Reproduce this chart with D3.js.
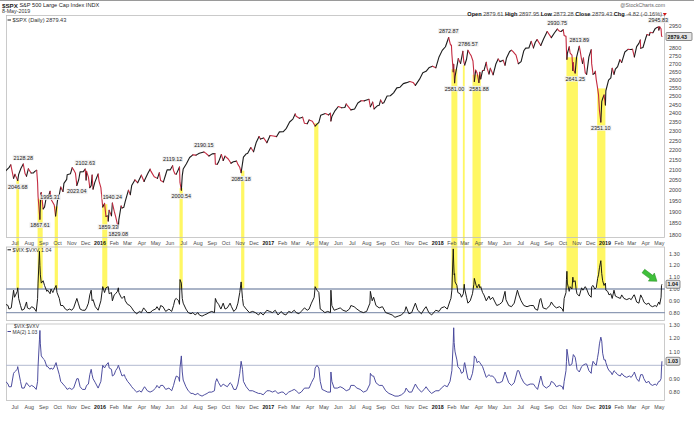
<!DOCTYPE html>
<html>
<head>
<meta charset="utf-8">
<script src="https://cdn.jsdelivr.net/npm/d3@7/dist/d3.min.js"></script>
<style>
html,body{margin:0;padding:0;background:#fff;}
svg{display:block;}
text{font-family:"Liberation Sans",Arial,Helvetica,sans-serif;}
</style>
</head>
<body>
<svg id="chart" width="694" height="421"></svg>
<script>
// ---------------- DATA ----------------
const spxDates = [
"2015-06-12","2015-06-19","2015-06-23","2015-06-29",
"2015-07-02","2015-07-08","2015-07-10","2015-07-15","2015-07-20","2015-07-24","2015-07-27","2015-07-31",
"2015-08-06","2015-08-11","2015-08-14","2015-08-18","2015-08-20","2015-08-21","2015-08-24","2015-08-25","2015-08-26","2015-08-27","2015-08-28",
"2015-09-01","2015-09-04","2015-09-08","2015-09-11","2015-09-16","2015-09-18","2015-09-22","2015-09-25","2015-09-28",
"2015-10-02","2015-10-06","2015-10-09","2015-10-14","2015-10-16","2015-10-22","2015-10-23","2015-10-30",
"2015-11-03","2015-11-06","2015-11-10","2015-11-13","2015-11-17","2015-11-20","2015-11-27",
"2015-12-01","2015-12-03","2015-12-04","2015-12-08","2015-12-11","2015-12-14","2015-12-16","2015-12-18","2015-12-22","2015-12-29","2015-12-31",
"2016-01-04","2016-01-07","2016-01-08","2016-01-12","2016-01-15","2016-01-19","2016-01-20","2016-01-22","2016-01-27","2016-01-29",
"2016-02-02","2016-02-05","2016-02-08","2016-02-11","2016-02-12","2016-02-17","2016-02-19","2016-02-23","2016-02-26",
"2016-03-01","2016-03-04","2016-03-08","2016-03-11","2016-03-18","2016-03-24",
"2016-04-01","2016-04-07","2016-04-08","2016-04-15","2016-04-20","2016-04-22","2016-04-29",
"2016-05-06","2016-05-10","2016-05-13","2016-05-19","2016-05-24","2016-05-27",
"2016-06-03","2016-06-08","2016-06-10","2016-06-13","2016-06-16","2016-06-23","2016-06-24","2016-06-27","2016-06-29",
"2016-07-01","2016-07-08","2016-07-15","2016-07-22","2016-07-29",
"2016-08-05","2016-08-15","2016-08-19","2016-08-26",
"2016-09-02","2016-09-08","2016-09-09","2016-09-13","2016-09-16","2016-09-22","2016-09-26","2016-09-30",
"2016-10-07","2016-10-13","2016-10-18","2016-10-25","2016-10-28",
"2016-11-01","2016-11-04","2016-11-07","2016-11-09","2016-11-15","2016-11-18","2016-11-25",
"2016-12-01","2016-12-07","2016-12-13","2016-12-16","2016-12-23","2016-12-30",
"2017-01-06","2017-01-13","2017-01-20","2017-01-26",
"2017-02-03","2017-02-10","2017-02-17","2017-02-24",
"2017-03-01","2017-03-03","2017-03-10","2017-03-17","2017-03-21","2017-03-27","2017-03-31",
"2017-04-07","2017-04-13","2017-04-18","2017-04-21","2017-04-25",
"2017-05-05","2017-05-12","2017-05-16","2017-05-17","2017-05-19","2017-05-26",
"2017-06-02","2017-06-09","2017-06-16","2017-06-19","2017-06-29",
"2017-07-07","2017-07-14","2017-07-21","2017-07-28",
"2017-08-07","2017-08-10","2017-08-15","2017-08-18","2017-08-25","2017-08-29",
"2017-09-01","2017-09-05","2017-09-08","2017-09-15","2017-09-22","2017-09-29",
"2017-10-06","2017-10-13","2017-10-20","2017-10-27",
"2017-11-03","2017-11-10","2017-11-15","2017-11-24",
"2017-12-01","2017-12-08","2017-12-15","2017-12-22","2017-12-29",
"2018-01-05","2018-01-12","2018-01-19","2018-01-26","2018-01-30",
"2018-02-01","2018-02-02","2018-02-05","2018-02-06","2018-02-08","2018-02-09","2018-02-14","2018-02-16","2018-02-21","2018-02-26","2018-02-28",
"2018-03-02","2018-03-06","2018-03-09","2018-03-13","2018-03-16","2018-03-20","2018-03-22","2018-03-23","2018-03-26","2018-03-29",
"2018-04-02","2018-04-04","2018-04-06","2018-04-10","2018-04-13","2018-04-18","2018-04-20","2018-04-24","2018-04-27",
"2018-05-03","2018-05-09","2018-05-14","2018-05-18","2018-05-25","2018-05-29",
"2018-06-01","2018-06-08","2018-06-12","2018-06-15","2018-06-22","2018-06-27",
"2018-07-03","2018-07-09","2018-07-13","2018-07-20","2018-07-25","2018-07-30",
"2018-08-03","2018-08-07","2018-08-15","2018-08-21","2018-08-29",
"2018-09-07","2018-09-14","2018-09-20","2018-09-25","2018-09-28",
"2018-10-03","2018-10-05","2018-10-09","2018-10-10","2018-10-11","2018-10-12","2018-10-16","2018-10-18","2018-10-22","2018-10-24","2018-10-25","2018-10-26","2018-10-29",
"2018-11-01","2018-11-07","2018-11-09","2018-11-12","2018-11-14","2018-11-16","2018-11-20","2018-11-23","2018-11-28",
"2018-12-03","2018-12-04","2018-12-07","2018-12-10","2018-12-12","2018-12-14","2018-12-17","2018-12-19","2018-12-21","2018-12-24","2018-12-26","2018-12-28","2018-12-31",
"2019-01-03","2019-01-04","2019-01-10","2019-01-15","2019-01-18","2019-01-22","2019-01-25","2019-01-30",
"2019-02-04","2019-02-08","2019-02-15","2019-02-22","2019-02-27",
"2019-03-04","2019-03-08","2019-03-13","2019-03-18","2019-03-21","2019-03-22","2019-03-27",
"2019-04-02","2019-04-05","2019-04-10","2019-04-12","2019-04-18","2019-04-23","2019-04-26","2019-04-30",
"2019-05-01","2019-05-03","2019-05-06","2019-05-07","2019-05-08"
];
const spxCloses = [
2094.11,2109.99,2124.20,2057.64,
2076.78,2046.68,2076.62,2107.40,2128.28,2079.65,2067.64,2103.84,
2083.56,2084.07,2091.54,2096.92,2035.73,1970.89,1893.21,1867.61,1940.51,1987.66,1988.87,
1913.85,1921.22,1969.41,1961.05,1995.31,1958.03,1942.74,1931.34,1881.77,
1951.36,1979.92,2014.89,1994.24,2033.11,2052.51,2075.15,2079.36,
2109.79,2099.20,2081.72,2023.04,2050.44,2089.17,2090.11,
2102.63,2049.62,2091.69,2063.59,2012.37,2021.94,2073.07,2005.55,2038.97,2078.36,2043.94,
2012.66,1943.09,1922.03,1938.68,1880.33,1881.33,1859.33,1906.90,1882.95,1940.24,
1903.03,1880.05,1853.44,1829.08,1864.78,1926.82,1917.78,1921.27,1948.05,
1978.35,1999.99,1979.26,2022.19,2049.58,2035.94,
2072.78,2041.91,2047.60,2080.73,2102.40,2091.58,2065.30,
2057.14,2084.39,2046.61,2040.04,2076.06,2099.06,
2099.13,2119.12,2096.07,2079.06,2077.99,2113.32,2037.41,2000.54,2070.77,
2102.95,2129.90,2161.74,2175.03,2173.60,
2182.87,2190.15,2183.87,2169.04,
2179.98,2181.30,2127.81,2127.02,2139.16,2177.18,2146.10,2168.27,
2153.74,2132.55,2139.60,2143.16,2126.41,
2111.72,2085.18,2131.52,2163.26,2180.39,2181.90,2213.35,
2191.08,2241.35,2271.72,2258.07,2263.79,2238.83,
2276.98,2274.64,2271.31,2296.68,
2297.42,2316.10,2351.16,2367.34,
2395.96,2383.12,2372.60,2378.25,2344.02,2341.59,2362.72,
2355.54,2328.95,2342.19,2348.69,2388.61,
2399.29,2390.90,2400.67,2357.03,2381.73,2415.82,
2439.07,2431.77,2433.15,2453.46,2419.70,
2425.18,2459.27,2472.54,2472.10,
2480.91,2438.21,2464.61,2425.55,2443.05,2446.30,
2476.55,2457.85,2461.43,2500.23,2502.22,2519.36,
2549.33,2553.17,2575.21,2581.07,
2587.84,2582.30,2564.62,2602.42,
2642.22,2651.50,2675.81,2683.34,2673.61,
2743.15,2786.24,2810.30,2872.87,2822.43,
2821.98,2762.13,2648.94,2695.14,2581.00,2619.55,2698.63,2732.22,2701.33,2779.60,2713.83,
2691.25,2728.12,2786.57,2765.31,2752.01,2716.94,2643.69,2588.26,2658.55,2640.87,
2581.88,2644.69,2604.47,2656.87,2656.30,2708.64,2670.14,2634.56,2669.91,
2629.73,2697.79,2730.13,2712.97,2721.33,2689.86,
2734.62,2779.03,2786.85,2779.66,2754.88,2699.63,
2713.22,2784.17,2801.31,2801.83,2846.07,2802.60,
2840.35,2858.45,2818.37,2862.96,2914.04,
2871.68,2904.98,2930.75,2915.56,2913.98,
2925.51,2885.57,2880.34,2785.68,2728.37,2767.13,2809.92,2768.78,2755.88,2656.10,2705.57,2658.69,2641.25,
2740.37,2813.89,2781.01,2726.22,2701.58,2736.27,2641.89,2632.56,2743.79,
2790.37,2700.06,2633.08,2637.72,2651.07,2599.95,2545.94,2506.96,2416.62,2351.10,2467.70,2485.74,2506.85,
2447.89,2531.94,2596.64,2610.30,2670.71,2632.90,2664.76,2681.05,
2724.87,2707.88,2775.60,2792.67,2792.38,
2792.81,2743.07,2810.92,2832.94,2854.88,2800.71,2805.37,
2867.24,2892.74,2888.21,2907.41,2905.03,2933.68,2939.88,2945.83,
2923.73,2945.64,2932.47,2884.05,2879.43
];

// $VIX:$VXV ratio and its MA(2), sampled on the same dates
const ratioDates = [
"2015-06-12","2015-06-17","2015-06-19","2015-06-24","2015-06-29",
"2015-07-01","2015-07-07","2015-07-08","2015-07-10","2015-07-14","2015-07-17","2015-07-22","2015-07-27","2015-07-29",
"2015-08-03","2015-08-07","2015-08-12","2015-08-17","2015-08-20","2015-08-21","2015-08-24","2015-08-25","2015-08-26","2015-08-28",
"2015-09-01","2015-09-04","2015-09-09","2015-09-11","2015-09-16","2015-09-18","2015-09-22","2015-09-24","2015-09-29",
"2015-10-01","2015-10-06","2015-10-09","2015-10-14","2015-10-19","2015-10-23","2015-10-28",
"2015-11-02","2015-11-06","2015-11-13","2015-11-16","2015-11-20","2015-11-25",
"2015-12-01","2015-12-04","2015-12-08","2015-12-11","2015-12-14","2015-12-16","2015-12-18","2015-12-23","2015-12-29",
"2016-01-04","2016-01-07","2016-01-08","2016-01-12","2016-01-15","2016-01-20","2016-01-22","2016-01-27","2016-01-29",
"2016-02-02","2016-02-05","2016-02-09","2016-02-11","2016-02-12","2016-02-17","2016-02-19","2016-02-24","2016-02-26",
"2016-03-02","2016-03-07","2016-03-11","2016-03-16","2016-03-22","2016-03-28",
"2016-04-01","2016-04-06","2016-04-08","2016-04-14","2016-04-20","2016-04-26",
"2016-05-02","2016-05-05","2016-05-10","2016-05-13","2016-05-18","2016-05-24","2016-05-31",
"2016-06-06","2016-06-10","2016-06-13","2016-06-16","2016-06-21","2016-06-23","2016-06-24","2016-06-27","2016-06-29",
"2016-07-01","2016-07-07","2016-07-12","2016-07-18","2016-07-22","2016-07-27",
"2016-08-02","2016-08-05","2016-08-11","2016-08-16","2016-08-22","2016-08-26",
"2016-09-01","2016-09-07","2016-09-09","2016-09-12","2016-09-16","2016-09-21","2016-09-26","2016-09-30",
"2016-10-05","2016-10-11","2016-10-14","2016-10-19","2016-10-24","2016-10-28",
"2016-11-01","2016-11-04","2016-11-07","2016-11-09","2016-11-15","2016-11-22","2016-11-29",
"2016-12-05","2016-12-12","2016-12-16","2016-12-22","2016-12-30",
"2017-01-05","2017-01-11","2017-01-17","2017-01-23","2017-01-30",
"2017-02-03","2017-02-09","2017-02-15","2017-02-21","2017-02-27",
"2017-03-03","2017-03-09","2017-03-14","2017-03-21","2017-03-27","2017-03-31",
"2017-04-05","2017-04-11","2017-04-13","2017-04-17","2017-04-21","2017-04-24","2017-04-28",
"2017-05-04","2017-05-10","2017-05-16","2017-05-17","2017-05-19","2017-05-24","2017-05-31",
"2017-06-06","2017-06-12","2017-06-19","2017-06-26","2017-06-29",
"2017-07-06","2017-07-12","2017-07-19","2017-07-26",
"2017-08-02","2017-08-09","2017-08-10","2017-08-14","2017-08-17","2017-08-22","2017-08-29",
"2017-09-05","2017-09-12","2017-09-19","2017-09-26",
"2017-10-02","2017-10-09","2017-10-16","2017-10-23","2017-10-26",
"2017-11-01","2017-11-07","2017-11-15","2017-11-20","2017-11-28",
"2017-12-04","2017-12-08","2017-12-14","2017-12-20","2017-12-29",
"2018-01-05","2018-01-10","2018-01-17","2018-01-23","2018-01-29","2018-01-31",
"2018-02-02","2018-02-05","2018-02-06","2018-02-07","2018-02-08","2018-02-09","2018-02-13","2018-02-15","2018-02-20","2018-02-23","2018-02-27",
"2018-03-01","2018-03-02","2018-03-06","2018-03-09","2018-03-14","2018-03-19","2018-03-22","2018-03-23","2018-03-27","2018-03-29",
"2018-04-02","2018-04-04","2018-04-06","2018-04-10","2018-04-13","2018-04-18","2018-04-24","2018-04-27",
"2018-05-02","2018-05-07","2018-05-11","2018-05-17","2018-05-23","2018-05-29","2018-05-31",
"2018-06-06","2018-06-12","2018-06-18","2018-06-25","2018-06-28",
"2018-07-03","2018-07-09","2018-07-16","2018-07-23","2018-07-30",
"2018-08-03","2018-08-08","2018-08-13","2018-08-15","2018-08-20","2018-08-27",
"2018-09-04","2018-09-07","2018-09-12","2018-09-18","2018-09-25",
"2018-10-01","2018-10-03","2018-10-05","2018-10-09","2018-10-10","2018-10-11","2018-10-12","2018-10-16","2018-10-18","2018-10-22","2018-10-24","2018-10-25","2018-10-29","2018-10-31",
"2018-11-02","2018-11-07","2018-11-12","2018-11-15","2018-11-20","2018-11-23","2018-11-28",
"2018-12-03","2018-12-04","2018-12-07","2018-12-11","2018-12-14","2018-12-17","2018-12-19","2018-12-21","2018-12-24","2018-12-26","2018-12-28","2018-12-31",
"2019-01-03","2019-01-04","2019-01-08","2019-01-11","2019-01-15","2019-01-18","2019-01-22","2019-01-25","2019-01-30",
"2019-02-05","2019-02-08","2019-02-13","2019-02-19","2019-02-25",
"2019-03-01","2019-03-07","2019-03-08","2019-03-13","2019-03-18","2019-03-22","2019-03-26","2019-03-29",
"2019-04-03","2019-04-09","2019-04-12","2019-04-17","2019-04-23","2019-04-26",
"2019-05-01","2019-05-03","2019-05-06","2019-05-07","2019-05-08"
];
const ratioValues = [
0.87,0.86,0.83,0.84,0.99,
0.93,0.98,1.01,0.92,0.86,0.82,0.83,0.89,0.84,
0.83,0.85,0.84,0.81,0.92,1.05,1.32,1.20,1.12,1.05,
1.07,1.03,0.98,0.99,0.96,1.00,0.97,0.99,1.03,
0.97,0.92,0.86,0.86,0.83,0.82,0.83,
0.82,0.84,0.92,0.88,0.83,0.82,
0.82,0.84,0.88,0.95,0.99,0.90,0.91,0.85,0.82,
0.90,0.99,1.02,0.97,1.01,1.02,0.96,0.97,0.90,
0.95,0.96,0.98,1.01,0.97,0.93,0.92,0.94,0.90,
0.87,0.86,0.84,0.81,0.79,0.81,
0.80,0.84,0.83,0.80,0.80,0.82,
0.83,0.85,0.82,0.86,0.85,0.81,0.83,
0.81,0.86,0.91,0.92,0.90,0.87,1.08,1.05,0.92,
0.88,0.83,0.80,0.79,0.80,0.78,
0.80,0.78,0.77,0.78,0.79,0.80,
0.81,0.80,0.92,0.89,0.87,0.83,0.88,0.83,
0.84,0.88,0.85,0.81,0.83,0.88,
0.97,1.06,0.92,0.86,0.83,0.80,0.81,
0.80,0.78,0.80,0.78,0.82,
0.81,0.80,0.82,0.78,0.81,
0.79,0.78,0.81,0.80,0.82,
0.80,0.79,0.81,0.84,0.82,0.83,
0.88,0.93,1.02,0.99,0.97,0.83,0.82,
0.80,0.81,0.80,0.99,0.86,0.82,0.83,
0.84,0.82,0.81,0.83,0.86,
0.85,0.83,0.81,0.80,
0.81,0.88,0.98,0.90,0.93,0.86,0.84,
0.85,0.80,0.79,0.78,
0.76,0.77,0.78,0.81,0.85,
0.79,0.80,0.88,0.82,0.79,
0.83,0.85,0.80,0.78,0.82,
0.81,0.84,0.85,0.83,0.90,0.92,
0.99,1.34,1.22,1.12,1.13,1.06,1.03,0.97,0.96,0.93,0.96,
1.04,1.00,0.93,0.88,0.90,0.96,1.04,1.09,1.03,1.01,
1.04,1.01,1.02,0.97,0.95,0.90,0.94,0.91,
0.93,0.89,0.86,0.87,0.89,0.98,0.91,
0.86,0.85,0.88,0.99,0.95,
0.90,0.86,0.85,0.86,0.86,
0.83,0.82,0.91,0.92,0.84,0.83,
0.86,0.89,0.86,0.84,0.85,
0.83,0.81,0.92,0.97,1.08,1.15,1.05,0.98,1.02,1.00,1.10,1.06,1.07,1.00,
0.96,0.94,1.01,0.99,1.02,1.00,0.95,
0.93,1.02,1.03,1.00,1.01,1.09,1.12,1.18,1.24,1.13,1.07,1.03,
1.05,0.99,0.98,0.95,0.96,0.92,0.99,0.94,0.93,
0.92,0.95,0.92,0.91,0.92,
0.91,0.95,0.95,0.89,0.88,0.95,0.92,0.89,
0.87,0.88,0.86,0.85,0.86,0.85,
0.89,0.87,0.93,1.03,1.04
];
const maValues = [
0.88,0.86,0.84,0.84,0.94,
0.95,0.97,0.99,0.95,0.88,0.83,0.83,0.87,0.86,
0.84,0.85,0.84,0.82,0.88,0.99,1.19,1.26,1.16,1.07,
1.05,1.04,0.99,0.99,0.97,0.98,0.97,0.98,1.02,
0.99,0.93,0.88,0.86,0.84,0.82,0.83,
0.82,0.83,0.90,0.90,0.84,0.82,
0.82,0.85,0.86,0.93,0.97,0.93,0.90,0.87,0.83,
0.88,0.97,1.00,0.98,1.00,1.02,0.98,0.97,0.92,
0.93,0.96,0.98,1.00,0.99,0.94,0.92,0.93,0.91,
0.88,0.86,0.84,0.82,0.80,0.81,
0.80,0.83,0.84,0.81,0.80,0.81,
0.83,0.85,0.83,0.85,0.85,0.82,0.83,
0.81,0.85,0.89,0.92,0.91,0.88,0.98,1.07,0.95,
0.89,0.84,0.81,0.79,0.79,0.78,
0.79,0.78,0.77,0.78,0.79,0.80,
0.80,0.81,0.87,0.90,0.87,0.84,0.86,0.85,
0.84,0.87,0.86,0.82,0.82,0.86,
0.94,1.03,0.97,0.88,0.84,0.81,0.81,
0.80,0.79,0.79,0.78,0.81,
0.81,0.80,0.81,0.79,0.80,
0.80,0.78,0.80,0.81,0.82,
0.81,0.79,0.80,0.83,0.83,0.83,
0.87,0.91,0.98,1.00,0.98,0.88,0.82,
0.81,0.80,0.80,0.95,0.88,0.83,0.83,
0.84,0.83,0.81,0.82,0.85,
0.85,0.83,0.82,0.80,
0.81,0.86,0.94,0.92,0.92,0.87,0.85,
0.85,0.81,0.79,0.78,
0.77,0.77,0.78,0.80,0.83,
0.80,0.80,0.86,0.83,0.80,
0.82,0.84,0.81,0.79,0.81,
0.81,0.83,0.85,0.84,0.88,0.92,
0.96,1.17,1.28,1.17,1.13,1.10,1.04,0.99,0.97,0.94,0.95,
1.01,1.02,0.95,0.90,0.89,0.94,1.01,1.07,1.05,1.02,
1.03,1.02,1.01,0.99,0.96,0.91,0.93,0.92,
0.92,0.90,0.87,0.87,0.88,0.95,0.93,
0.87,0.85,0.87,0.96,0.96,
0.91,0.87,0.85,0.86,0.86,
0.84,0.82,0.89,0.92,0.85,0.83,
0.85,0.88,0.87,0.84,0.85,
0.84,0.82,0.88,0.96,1.03,1.12,1.10,1.00,1.00,1.01,1.06,1.08,1.06,1.02,
0.97,0.95,0.99,1.00,1.01,1.01,0.96,
0.94,0.98,1.03,1.01,1.00,1.06,1.10,1.16,1.21,1.18,1.09,1.04,
1.04,1.02,0.98,0.96,0.95,0.93,0.96,0.95,0.93,
0.92,0.94,0.92,0.91,0.92,
0.91,0.94,0.95,0.90,0.88,0.93,0.93,0.90,
0.87,0.88,0.86,0.85,0.86,0.85,
0.88,0.88,0.90,0.98,1.03
];

// yellow highlight periods (VIX:VXV above 1) and the price level where each band starts
const bandStarts = ["2015-07-05","2015-08-20","2015-09-26","2016-01-07","2016-06-23","2016-11-04","2017-04-11","2018-02-01","2018-02-26","2018-03-19","2018-10-10","2018-12-16"];
const bandEnds   = ["2015-07-11","2015-08-31","2015-10-03","2016-01-18","2016-06-30","2016-11-11","2017-04-20","2018-02-14","2018-03-02","2018-04-06","2018-11-04","2019-01-03"];
const bandTops   = [2050, 1960, 1925, 1935, 2010, 2095, 2344, 2665, 2690, 2630, 2741, 2546];

// annotated closes
const annDates  = ["2015-07-20","2015-07-08","2015-08-25","2015-09-16","2015-11-13","2015-12-01","2016-01-29","2016-01-20","2016-02-11","2016-06-08","2016-06-27","2016-08-15","2016-11-04","2018-01-26","2018-02-08","2018-03-09","2018-04-02","2018-09-20","2018-11-07","2018-10-29","2018-12-24","2019-04-30"];
const annValues = [2128.28,2046.68,1867.61,1995.31,2023.04,2102.63,1940.24,1859.33,1829.08,2119.12,2000.54,2190.15,2085.18,2872.87,2581.00,2786.57,2581.88,2930.75,2813.89,2641.25,2351.10,2945.83];
const annSides  = ["up","down","down","down","down","up","up","down","down","up","down","up","down","up","down","up","down","up","up","down","down","up"];

// axis tick labels
const priceTicks = [1800,1850,1900,1950,2000,2050,2100,2150,2200,2250,2300,2350,2400,2450,2500,2550,2600,2650,2700,2750,2800,2850,2900,2950];
const ratioTicks = [0.80,0.90,1.00,1.10,1.20,1.30];
const refLevels2 = [1.00, 0.80];
const refLevels3 = [1.00];
const monthLabels = [
"Jul","Aug","Sep","Oct","Nov","Dec",
"2016","Feb","Mar","Apr","May","Jun","Jul","Aug","Sep","Oct","Nov","Dec",
"2017","Feb","Mar","Apr","May","Jun","Jul","Aug","Sep","Oct","Nov","Dec",
"2018","Feb","Mar","Apr","May","Jun","Jul","Aug","Sep","Oct","Nov","Dec",
"2019","Feb","Mar","Apr","May"
];
const firstMonth = "2015-07-01";

// ---------------- DRAW ----------------
const parse = d3.timeParse("%Y-%m-%d");
const svg = d3.select("#chart");
const L = 6, R = 665;
const P1 = {t: 15, b: 238}, P2 = {t: 246.5, b: 321}, P3 = {t: 323.5, b: 401};

const x = d3.scaleTime()
  .domain([new Date(2015,6,1), new Date(2016,0,1), new Date(2017,0,1), new Date(2018,0,1), new Date(2019,0,1), new Date(2019,4,1)])
  .range([14.5, 99.5, 267.8, 437.2, 604.5, 658.8]);
const y1 = d3.scaleLog().domain([1786, 3030]).range([P1.b, P1.t]);
const y2 = d3.scaleLinear().domain([0.7288, 1.3602]).range([P2.b, P2.t]);
const y3 = d3.scaleLinear().domain([0.7336, 1.3119]).range([P3.b, P3.t]);

const defs = svg.append("defs");
[["c1",P1],["c2",P2],["c3",P3]].forEach(([id,p]) => {
  defs.append("clipPath").attr("id", id).append("rect")
    .attr("x", L).attr("y", p.t).attr("width", R - L).attr("height", p.b - p.t);
});

// top page rule
svg.append("line").attr("x1",0).attr("x2",694).attr("y1",0.5).attr("y2",0.5).attr("stroke","#9a9a9a").attr("stroke-width",1);

// yellow bands
const bandG = svg.append("g");
bandStarts.forEach((s, i) => {
  const x0 = x(parse(s)), x1 = x(parse(bandEnds[i]));
  const yt = y1(bandTops[i]), yb = y2(1.0);
  bandG.append("rect").attr("x", x0).attr("y", yt)
    .attr("width", Math.max(1.5, x1 - x0)).attr("height", yb - yt)
    .attr("fill", "#fff763");
});

// panel frames
[P1,P2,P3].forEach(p => {
  svg.append("rect").attr("x", L + 0.5).attr("y", p.t + 0.5)
    .attr("width", R - L - 1).attr("height", p.b - p.t - 1)
    .attr("fill", "none").attr("stroke", "#bdbdbd").attr("stroke-width", 0.8);
});

// reference lines
refLevels2.forEach(v => svg.append("line").attr("x1", L).attr("x2", R)
  .attr("y1", y2(v)).attr("y2", y2(v)).attr("stroke", "#8e9bb5").attr("stroke-width", 1.3));
refLevels3.forEach(v => svg.append("line").attr("x1", L).attr("x2", R)
  .attr("y1", y3(v)).attr("y2", y3(v)).attr("stroke", "#b2bad0").attr("stroke-width", 1));

// SPX line, red on down moves, black on up moves
const spx = spxDates.map((d, i) => ({d: parse(d), v: spxCloses[i]})).filter(p => p.v != null);
const line1 = d3.line().x(p => x(p.d)).y(p => y1(p.v));
const runs = [];
for (let i = 1; i < spx.length; i++) {
  const up = spx[i].v >= spx[i-1].v;
  const last = runs[runs.length - 1];
  if (!last || last.up !== up) runs.push({up, pts: [spx[i-1], spx[i]]});
  else last.pts.push(spx[i]);
}
const g1 = svg.append("g").attr("clip-path", "url(#c1)");
runs.forEach(r => g1.append("path").attr("d", line1(r.pts)).attr("fill", "none")
  .attr("stroke", r.up ? "#1c1c1c" : "#c42a40").attr("stroke-width", 1.1)
  .attr("stroke-linejoin", "round").attr("stroke-linecap", "round"));

// ratio lines
const n = Math.min(ratioDates.length, ratioValues.length, maValues.length);
const rat = d3.range(n).map(i => ({d: parse(ratioDates[i]), v: ratioValues[i], m: maValues[i]}));
svg.append("g").attr("clip-path", "url(#c2)").append("path")
  .attr("d", d3.line().x(p => x(p.d)).y(p => y2(p.v))(rat))
  .attr("fill", "none").attr("stroke", "#111").attr("stroke-width", 0.95).attr("stroke-linejoin", "round");
svg.append("g").attr("clip-path", "url(#c3)").append("path")
  .attr("d", d3.line().x(p => x(p.d)).y(p => y3(p.m))(rat))
  .attr("fill", "none").attr("stroke", "#45459a").attr("stroke-width", 0.95).attr("stroke-linejoin", "round");

function txt(g, px, py, s, o = {}) {
  return g.append("text").attr("x", px).attr("y", py)
    .attr("dominant-baseline", "central")
    .attr("text-anchor", o.anchor || "start")
    .attr("font-size", o.size || 5.5)
    .attr("font-weight", o.bold ? "bold" : null)
    .attr("fill", o.fill || "#333")
    .text(s);
}

// annotation labels
const annG = svg.append("g");
annDates.forEach((d, i) => {
  const v = annValues[i];
  const cx = x(parse(d));
  const cy = y1(v) + (annSides[i] === "up" ? -6.5 : 6);
  const t = annG.append("text").attr("x", cx).attr("y", cy)
    .attr("text-anchor", "middle").attr("dominant-baseline", "central")
    .attr("font-size", 5.4).attr("font-family", '"Liberation Serif","Times New Roman",serif')
    .attr("fill", "#222").text(v.toFixed(2));
  const bb = t.node().getBBox();
  annG.insert("rect", () => t.node()).attr("x", bb.x - 0.8).attr("y", bb.y + 0.3)
    .attr("width", bb.width + 1.6).attr("height", bb.height - 0.6)
    .attr("fill", "#eeeeee").attr("opacity", 0.92);
});

// right axes (a tick label sitting under a value tag is hidden by it, as in the original)
const axG = svg.append("g");
const lastClose = spxCloses[spxCloses.length - 1];
const lastRatio = ratioValues[n - 1], lastMA = maValues[n - 1];
priceTicks.forEach(v => {
  if (Math.abs(y1(v) - y1(lastClose)) < 5) return;
  txt(axG, 669, y1(v), String(v), {fill: "#444"});
});
ratioTicks.forEach(v => {
  if (Math.abs(y2(v) - y2(lastRatio)) >= 4.5) txt(axG, 669, y2(v), v.toFixed(2), {fill: "#444"});
  if (Math.abs(y3(v) - y3(lastMA)) >= 4.5) txt(axG, 669, y3(v), v.toFixed(2), {fill: "#444"});
});

// value tags
function tag(py, s) {
  const g = svg.append("g");
  g.append("rect").attr("x", 666).attr("y", py - 4).attr("width", s.length > 4 ? 26 : 14).attr("height", 8)
    .attr("fill", "#e4e4e4").attr("stroke", "#444").attr("stroke-width", 0.6).attr("rx", 1);
  txt(g, 667.5, py, s, {bold: true, fill: "#111", size: 5.4});
}
tag(y1(lastClose), lastClose.toFixed(2));
tag(y2(lastRatio), lastRatio.toFixed(2));
tag(y3(lastMA), lastMA.toFixed(2));

// month labels
const xg = svg.append("g");
const m0 = parse(firstMonth);
monthLabels.forEach((lab, i) => {
  const d = d3.timeMonth.offset(m0, i);
  const isYear = /^\d{4}$/.test(lab);
  [242.7, 406.5].forEach(py => {
    txt(xg, x(d) + 0.5, py, lab, {anchor: "middle", bold: isYear, fill: isYear ? "#111" : "#4a4a4a", size: 5.3});
  });
});

// legends
const lg = svg.append("g");
lg.append("line").attr("x1", 7.5).attr("x2", 11).attr("y1", 20).attr("y2", 20).attr("stroke", "#222").attr("stroke-width", 1);
txt(lg, 12.5, 20, "$SPX (Daily) 2879.43", {size: 5.6, fill: "#333"});
lg.append("line").attr("x1", 7.5).attr("x2", 11).attr("y1", 249.8).attr("y2", 249.8).attr("stroke", "#111").attr("stroke-width", 1);
txt(lg, 12.5, 249.8, "$VIX:$VXV 1.04", {size: 5.4, fill: "#333"});
txt(lg, 14, 326.3, "$VIX:$VXV", {size: 5, fill: "#333"});
lg.append("line").attr("x1", 7.5).attr("x2", 11).attr("y1", 331.5).attr("y2", 331.5).attr("stroke", "#45459a").attr("stroke-width", 1);
txt(lg, 12.5, 331.5, "MA(2) 1.03", {size: 5, fill: "#333"});

// green arrow pointing at the latest ratio
const tipX = x(parse(ratioDates[n - 1])) - 5, tipY = y2(lastRatio) - 3;
const ang = Math.atan2(0.75, 1) * 180 / Math.PI;
svg.append("path")
  .attr("d", "M0,0 L-7,-5 L-7,-2.2 L-17,-2.2 L-17,2.2 L-7,2.2 L-7,5 Z")
  .attr("transform", `translate(${tipX},${tipY}) rotate(${ang})`)
  .attr("fill", "#3fbf3a").attr("stroke", "#2a8f27").attr("stroke-width", 0.5);

// header
const hd = svg.append("g");
const h1 = hd.append("text").attr("x", 2).attr("y", 4.8).attr("dominant-baseline", "central").attr("font-size", 5.6).attr("fill", "#222");
h1.append("tspan").attr("font-weight", "bold").attr("font-size", 6.2).text("$SPX");
h1.append("tspan").text(" S&P 500 Large Cap Index  INDX");
txt(hd, 2, 11.3, "8-May-2019", {size: 5.3, fill: "#333"});
txt(hd, 665, 5, "@StockCharts.com", {anchor: "end", size: 5.2, fill: "#666"});
const h2 = hd.append("text").attr("x", 662).attr("y", 14.3).attr("text-anchor", "end")
  .attr("dominant-baseline", "central").attr("font-size", 5.6).attr("fill", "#333");
[["Open", true], [" 2879.61 ", false], ["High", true], [" 2897.95 ", false], ["Low", true], [" 2873.28 ", false],
 ["Close", true], [" 2879.43 ", false], ["Chg", true], [" -4.82 (-0.16%)", false]].forEach(([s, b]) => {
  h2.append("tspan").attr("font-weight", b ? "bold" : null).attr("fill", b ? "#111" : "#444").text(s);
});
hd.append("path").attr("d", "M662.8,13 L666.8,13 L664.8,16 Z").attr("fill", "#d01818");
</script>
</body>
</html>
